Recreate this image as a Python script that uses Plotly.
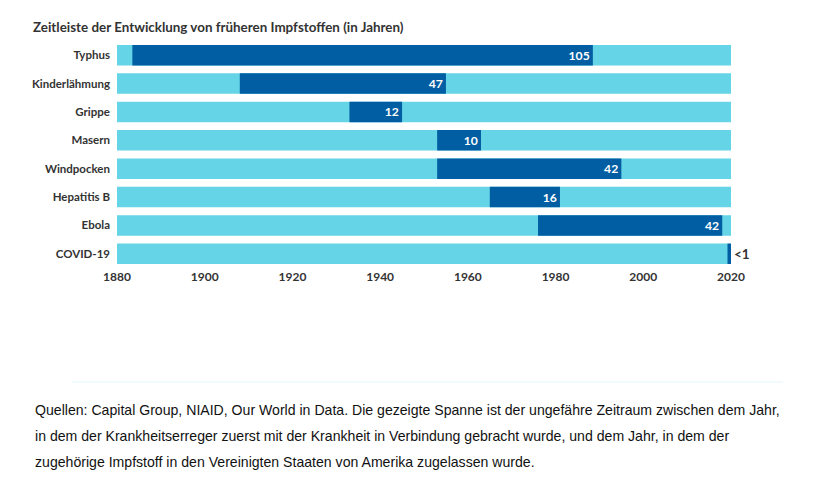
import plotly.graph_objects as go

categories = ["Typhus", "Kinderlähmung", "Grippe", "Masern", "Windpocken", "Hepatitis B", "Ebola", "COVID-19"]
start_year = [1883.5, 1908, 1933, 1953, 1953, 1965, 1976, 2019.2]
duration = [105, 47, 12, 10, 42, 16, 42, 0.8]
labels = ["105", "47", "12", "10", "42", "16", "42", "<1"]
timeline_start = 1880
timeline_end = 2020
tick_vals = [1880, 1900, 1920, 1940, 1960, 1980, 2000, 2020]

light = "#64d4e6"
dark = "#015ea3"
font_fam = "Lato, 'Open Sans', sans-serif"
OFF = 8  # page body margin

fig = go.Figure()
fig.add_trace(go.Bar(
    y=categories, x=[timeline_end - timeline_start] * len(categories),
    base=timeline_start, orientation="h", marker=dict(color=light, line=dict(width=0)),
    hoverinfo="skip", showlegend=False))
fig.add_trace(go.Bar(
    y=categories, x=duration, base=start_year, orientation="h",
    marker=dict(color=dark, line=dict(width=0)),
    text=labels,
    textposition=["inside"] * 7 + ["outside"],
    insidetextanchor="end",
    insidetextfont=dict(color="white", size=13.5, family=font_fam, weight="bold"),
    outsidetextfont=dict(color="#333333", size=13.5, family=font_fam, weight="bold"),
    textangle=0, cliponaxis=False, showlegend=False))

L, T, W, H = 117 - OFF, 41 - OFF, 658, 227
fig.update_layout(
    width=816, height=496, barmode="overlay", bargap=0.28,
    margin=dict(l=L, r=816 - L - W, t=T, b=496 - T - H, pad=0),
    plot_bgcolor="white", paper_bgcolor="white",
    font=dict(family=font_fam, color="#333333"),
    title=dict(text="<b>Zeitleiste der Entwicklung von früheren Impfstoffen (in Jahren)</b>",
               x=(33 - OFF) / 816, xanchor="left", xref="container",
               y=1 - (27 - OFF) / 496, yanchor="middle", yref="container",
               font=dict(size=13.4, family=font_fam, color="#333333")),
    xaxis=dict(range=[timeline_start, timeline_start + W / ((731 - 117) / 140)],
               tickvals=tick_vals, ticktext=[str(v) for v in tick_vals],
               showgrid=False, zeroline=False, showline=False, ticks="",
               tickfont=dict(size=12, family=font_fam, color="#333333", weight="bold")),
    yaxis=dict(autorange="reversed", showgrid=False, zeroline=False, showline=False,
               ticks="", ticklabelstandoff=6,
               tickfont=dict(size=11.5, family=font_fam, color="#333333", weight="bold")),
)

def py(ypx):
    return (T + H - (ypx - OFF)) / H

def px(xpx):
    return (xpx - OFF - L) / W

fig.add_shape(type="line", xref="paper", yref="paper", x0=px(72), x1=px(783),
              y0=py(382), y1=py(382), line=dict(color="#e3f6fa", width=1))

foot = [
    "Quellen: Capital Group, NIAID, Our World in Data. Die gezeigte Spanne ist der ungefähre Zeitraum zwischen dem Jahr,",
    "in dem der Krankheitserreger zuerst mit der Krankheit in Verbindung gebracht wurde, und dem Jahr, in dem der",
    "zugehörige Impfstoff in den Vereinigten Staaten von Amerika zugelassen wurde.",
]
for line, ypx in zip(foot, [410, 436, 462]):
    fig.add_annotation(text=line, xref="paper", yref="paper", x=px(33), y=py(ypx),
                       xanchor="left", yanchor="middle", showarrow=False,
                       font=dict(family="'Liberation Sans', Arial, sans-serif", size=14.1, color="#111111"))

fig.write_html("out.html")
